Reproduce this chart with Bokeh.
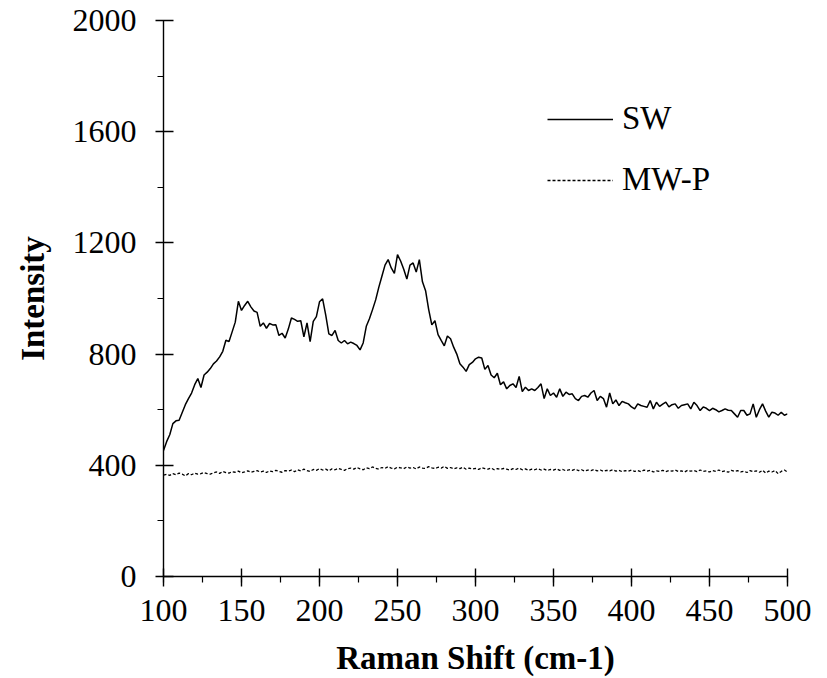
from bokeh.plotting import figure
from bokeh.models import Range1d, SingleIntervalTicker, Legend, LegendItem
from bokeh.embed import file_html
from bokeh.resources import INLINE

shift = list(range(100, 501, 2))

sw = [453, 485, 510, 550, 560, 562, 590, 618, 640, 660,
      690, 712, 680, 725, 735, 748, 765, 775, 790, 810,
      850, 845, 880, 915, 990, 957, 975, 990, 970, 955,
      950, 900, 912, 893, 910, 905, 906, 867, 875, 858,
      890, 930, 925, 918, 920, 862, 912, 845, 918, 935,
      988, 999, 940, 873, 867, 885, 849, 840, 849, 837,
      843, 838, 831, 815, 840, 900, 927, 960, 995, 1040,
      1080, 1120, 1140, 1110, 1090, 1158, 1135, 1105, 1070, 1120,
      1128, 1095, 1140, 1060, 1028, 960, 905, 920, 870, 849,
      830, 865, 855, 825, 800, 765, 753, 738, 762, 770,
      783, 789, 786, 745, 759, 725, 715, 731, 690, 700,
      675, 687, 693, 680, 720, 665, 681, 669, 675, 669,
      680, 693, 640, 675, 651, 660, 645, 675, 648, 663,
      655, 657, 640, 633, 648, 651, 645, 660, 669, 633,
      648, 640, 609, 660, 621, 635, 615, 630, 625, 621,
      610, 603, 621, 615, 612, 609, 633, 603, 627, 612,
      620, 627, 610, 618, 621, 605, 615, 618, 621, 603,
      627, 615, 597, 610, 605, 597, 605, 600, 592, 597,
      603, 598, 597, 585, 573, 597, 597, 580, 585, 621,
      573, 600, 621, 595, 573, 591, 588, 580, 591, 580,
      585]

mwp = [365, 368, 364, 370, 366, 372, 368, 362, 370, 366,
       372, 368, 370, 374, 370, 368, 373, 376, 371, 378,
       374, 372, 377, 375, 379, 373, 376, 380, 375, 378,
       381, 376, 379, 374, 380, 377, 382, 378, 375, 381,
       379, 383, 377, 384, 380, 386, 381, 378, 385, 382,
       388, 383, 386, 380, 387, 384, 389, 385, 382, 388,
       390, 386, 392, 387, 384, 391, 388, 394, 389, 386,
       392, 389, 395, 390, 387, 393, 391, 388, 394, 390,
       392, 387, 394, 390, 389, 395, 391, 388, 393, 390,
       396, 389, 392, 387, 391, 388, 393, 386, 390, 387,
       389, 385, 391, 388, 386, 390, 384, 388, 385, 389,
       386, 383, 388, 385, 390, 384, 387, 382, 386, 384,
       388, 383, 386, 381, 385, 383, 387, 382, 385, 380,
       384, 382, 386, 381, 384, 379, 383, 381, 385, 380,
       383, 378, 382, 380, 384, 379, 382, 377, 381, 379,
       383, 378, 381, 377, 383, 379, 382, 376, 380, 378,
       382, 377, 381, 379, 383, 378, 380, 376, 382, 379,
       381, 377, 383, 378, 380, 376, 381, 378, 383, 377,
       380, 375, 382, 378, 381, 376, 379, 374, 381, 377,
       380, 375, 382, 372, 379, 376, 381, 370, 378, 383,
       376]

x_ticks_interval = 50
y_ticks_interval = 400

FONT = "Liberation Serif"

p = figure(frame_width=624, frame_height=556, output_backend="svg", toolbar_location=None,
           x_range=Range1d(100, 500), y_range=Range1d(0, 2000),
           min_border_left=163, min_border_right=40, min_border_top=20,
           min_border_bottom=0)
p.outline_line_color = None
p.xgrid.visible = False
p.ygrid.visible = False
p.background_fill_color = "white"
p.border_fill_color = "white"

r_sw = p.line(shift, sw, line_color="black", line_width=1.5)
r_mw = p.line(shift, mwp, line_color="black", line_width=1.3, line_dash="3 2")

p.xaxis.ticker = SingleIntervalTicker(interval=x_ticks_interval, num_minor_ticks=2)
p.yaxis.ticker = SingleIntervalTicker(interval=y_ticks_interval, num_minor_ticks=2)

for ax in (p.xaxis[0], p.yaxis[0]):
    ax.axis_line_color = "black"
    ax.axis_line_width = 1.4
    ax.major_tick_line_color = "black"
    ax.major_tick_line_width = 1.4
    ax.minor_tick_line_color = "black"
    ax.minor_tick_line_width = 1.2
    ax.major_label_text_font = FONT
    ax.major_label_text_font_size = "32px"
    ax.major_label_text_color = "black"
    ax.axis_label_text_font = FONT
    ax.axis_label_text_font_size = "33px"
    ax.axis_label_text_font_style = "bold"
    ax.axis_label_text_color = "black"
    ax.minor_tick_in = 0
    ax.minor_tick_out = 6

p.xaxis.major_tick_in = 8
p.xaxis.major_tick_out = 10
p.yaxis.major_tick_in = 10
p.yaxis.major_tick_out = 8
p.xaxis.major_label_standoff = 13
p.yaxis.major_label_standoff = 19
p.xaxis.axis_label = "Raman Shift (cm-1)"
p.yaxis.axis_label = "Intensity"
p.xaxis.axis_label_standoff = 16
p.yaxis.axis_label_standoff = 19

legend = Legend(items=[LegendItem(label="SW", renderers=[r_sw]),
                       LegendItem(label="MW-P", renderers=[r_mw])],
                location=(384, 378), orientation="vertical")
legend.border_line_color = None
legend.background_fill_alpha = 0
legend.padding = 0
legend.margin = 0
legend.glyph_width = 66
legend.label_standoff = 9
legend.spacing = 24
legend.label_text_font = FONT
legend.label_text_font_size = "33px"
legend.label_text_color = "black"
p.add_layout(legend, "center")

open("out.html", "w").write(file_html(p, INLINE))
